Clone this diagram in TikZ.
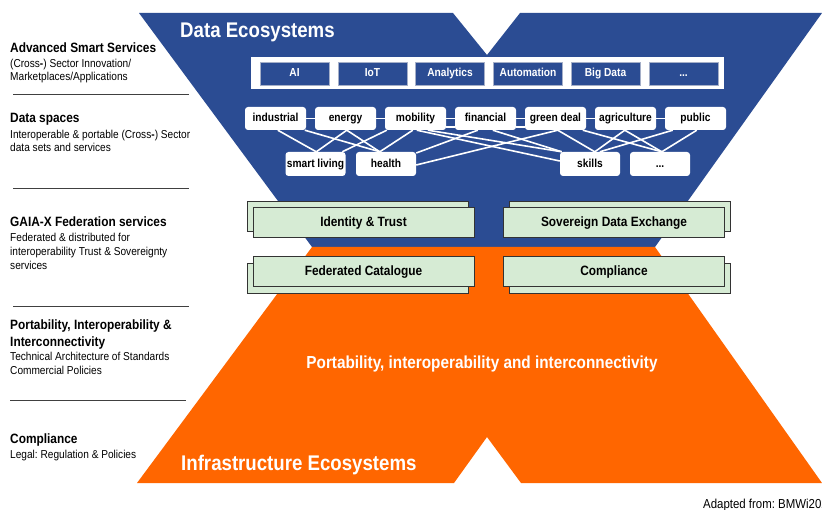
\documentclass[tikz,border=0pt]{standalone}
\usepackage{fontspec}
\setmainfont{Liberation Sans}[FakeStretch=0.88]
\usetikzlibrary{calc}
\frenchspacing
\definecolor{dblue}{RGB}{43,76,147}
\definecolor{orng}{RGB}{255,102,0}
\definecolor{lgreen}{RGB}{214,235,212}
\definecolor{boxedge}{RGB}{165,175,200}
\tikzset{
  sect/.style={anchor=base west, inner sep=0pt, font=\fontsize{13.5}{16}\selectfont\bfseries},
  sectbody/.style={anchor=base west, inner sep=0pt, font=\fontsize{11.5}{14}\selectfont},
  sepline/.style={draw=black!75, line width=1pt},
  topbox/.style={fill=dblue, draw=boxedge, line width=0.8pt, minimum width=69pt, minimum height=23pt, inner sep=0pt, text height=8.6pt, text depth=2.4pt, text=white, font=\fontsize{11.6}{14}\selectfont\bfseries},
  sector/.style={fill=white, rounded corners=3pt, minimum width=61pt, minimum height=23pt, inner sep=0pt, text height=8.6pt, text depth=2.4pt, font=\fontsize{11.6}{14}\selectfont\bfseries},
  sector2/.style={sector, minimum width=60pt, minimum height=24pt},
  link/.style={draw=white, line width=1.6pt},
  fedbox/.style={fill=lgreen, draw=black!80, line width=1pt, minimum width=221pt, minimum height=30pt, inner sep=0pt, text height=10pt, text depth=3pt, font=\fontsize{13.5}{16}\selectfont\bfseries},
  bigtitle/.style={anchor=base west, inner sep=0pt, text=white, font=\fontsize{21.2}{25}\selectfont\bfseries},
}
\begin{document}
\begin{tikzpicture}[x=1pt,y=-1pt]
\useasboundingbox (0,0) rectangle (822,510);
\fill[white] (0,0) rectangle (822,510);

% hourglass shapes
\fill[dblue] (139,13) -- (453,13) -- (487,55) -- (520,13) -- (822,13) -- (655,247) -- (312,247) -- cycle;
\fill[orng] (312,247) -- (655,247) -- (822,483) -- (521,483) -- (487,437) -- (454,483) -- (137,483) -- cycle;

\node[bigtitle] (dataeco) at (180,38) {Data Ecosystems};
\node[bigtitle] (infraeco) at (181,470) {Infrastructure Ecosystems};
\node[anchor=base, inner sep=0pt, text=white, font=\fontsize{17.4}{20}\selectfont\bfseries] (pii) at (482,369) {Portability, interoperability and interconnectivity};

% advanced smart services row
\node[fill=white, minimum width=473pt, minimum height=32pt, inner sep=0pt] (frame) at (487.5,73) {};
\node[topbox] (ai) at (294.5,73.5) {AI};
\node[topbox] (iot) at (372.5,73.5) {IoT};
\node[topbox] (ana) at (450,73.5) {Analytics};
\node[topbox] (aut) at (528,73.5) {Automation};
\node[topbox] (big) at (605.5,73.5) {Big Data};
\node[topbox] (more) at (683.5,73.5) {...};

% data spaces
\node[sector] (ind) at (275.5,118.5) {industrial};
\node[sector] (en) at (345.5,118.5) {energy};
\node[sector] (mob) at (415.5,118.5) {mobility};
\node[sector] (fin) at (485.5,118.5) {financial};
\node[sector] (gd) at (555.5,118.5) {green deal};
\node[sector] (ag) at (625.5,118.5) {agriculture};
\node[sector] (pub) at (695.5,118.5) {public};
\node[sector2] (sl) at (315.5,164) {smart living};
\node[sector2] (he) at (386,164) {health};
\node[sector2] (sk) at (590,164) {skills};
\node[sector2] (dots) at (660,164) {...};

% horizontal links
\draw[link] (ind.east) -- (en.west);
\draw[link] (en.east) -- (mob.west);
\draw[link] (mob.east) -- (fin.west);
\draw[link] ([yshift=-8.5pt]mob.east) -- ([yshift=-8.5pt]fin.west);
\draw[link] (fin.east) -- (gd.west);
\draw[link] ([yshift=-8.5pt]fin.east) -- ([yshift=-8.5pt]gd.west);
\draw[link] (gd.east) -- (ag.west);
\draw[link] (ag.east) -- (pub.west);

% cross links
\draw[link] ([xshift=33pt]ind.south west) -- ([xshift=31pt]sl.north west);
\draw[link] ([xshift=60pt]ind.south west) -- ([xshift=24pt]he.north west);
\draw[link] ([xshift=32pt]en.south west) -- ([xshift=31pt]sl.north west);
\draw[link] ([xshift=32pt]en.south west) -- ([xshift=24pt]he.north west);
\draw[link] ([xshift=2pt]mob.south west) -- ([xshift=57pt]sl.north west);
\draw[link] ([xshift=28pt]mob.south west) -- ([xshift=24pt]he.north west);
\draw[link] ([xshift=32pt]mob.south west) -- ([yshift=3pt]sk.west);
\draw[link] ([xshift=43pt]mob.south west) -- ([xshift=2pt]sk.north west);
\draw[link] ([xshift=23pt]fin.south west) -- ([yshift=11pt]he.east);
\draw[link] ([xshift=38pt]fin.south west) -- ([xshift=2pt]sk.north west);
\draw[link] ([xshift=33pt]gd.south west) -- ([yshift=-1pt]he.east);
\draw[link] ([xshift=33pt]gd.south west) -- ([xshift=35pt]sk.north west);
\draw[link] ([xshift=58pt]gd.south west) -- ([xshift=32pt]dots.north west);
\draw[link] ([xshift=30pt]ag.south west) -- ([xshift=35pt]sk.north west);
\draw[link] ([xshift=30pt]ag.south west) -- ([xshift=32pt]dots.north west);
\draw[link] ([xshift=8pt]pub.south west) -- ([xshift=40pt]sk.north west);
\draw[link] ([xshift=32pt]pub.south west) -- ([xshift=32pt]dots.north west);

% federation services
\node[fedbox] (idb) at (357.5,217) {};
\node[fedbox] (id) at (363.5,223) {Identity \& Trust};
\node[fedbox] (sdeb) at (620,217) {};
\node[fedbox] (sde) at (614,223) {Sovereign Data Exchange};
\node[fedbox] (fcb) at (357.5,279) {};
\node[fedbox] (fc) at (363.5,272) {Federated Catalogue};
\node[fedbox] (compb) at (620,279) {};
\node[fedbox] (comp) at (614,272) {Compliance};

% left column
\node[sect] (t1) at (10,53) {Advanced Smart Services};
\node[sectbody] (b1a) at (10,67.5) {(Cross\textbf{-}) Sector Innovation/};
\node[sectbody] (b1b) at (10,81) {Marketplaces/Applications};
\draw[sepline] (13,95) -- (189,95);

\node[sect] (t2) at (10,123) {Data spaces};
\node[sectbody] (b2a) at (10,138.5) {Interoperable \& portable (Cross\textbf{-}) Sector};
\node[sectbody] (b2b) at (10,152) {data sets and services};
\draw[sepline] (13,189) -- (189,189);

\node[sect] (t3) at (10,227) {GAIA-X Federation services};
\node[sectbody] (b3a) at (10,241.5) {Federated \& distributed for};
\node[sectbody] (b3b) at (10,255.5) {interoperability Trust \& Sovereignty};
\node[sectbody] (b3c) at (10,269.5) {services};
\draw[sepline] (13,307) -- (189,307);

\node[sect] (t4a) at (10,330) {Portability, Interoperability \&};
\node[sect] (t4b) at (10,347) {Interconnectivity};
\node[sectbody] (b4a) at (10,361) {Technical Architecture of Standards};
\node[sectbody] (b4b) at (10,375) {Commercial Policies};
\draw[sepline] (10,401) -- (186,401);

\node[sect] (t5) at (10,443) {Compliance};
\node[sectbody] (b5) at (10,458) {Legal: Regulation \& Policies};

\begin{scope}
\clip (0,0) rectangle (822,510);
\node[anchor=base west, inner sep=0pt, font=\fontsize{13}{15}\selectfont] (src) at (703,508) {Adapted from: BMWi2020};
\end{scope}
\end{tikzpicture}
\end{document}
